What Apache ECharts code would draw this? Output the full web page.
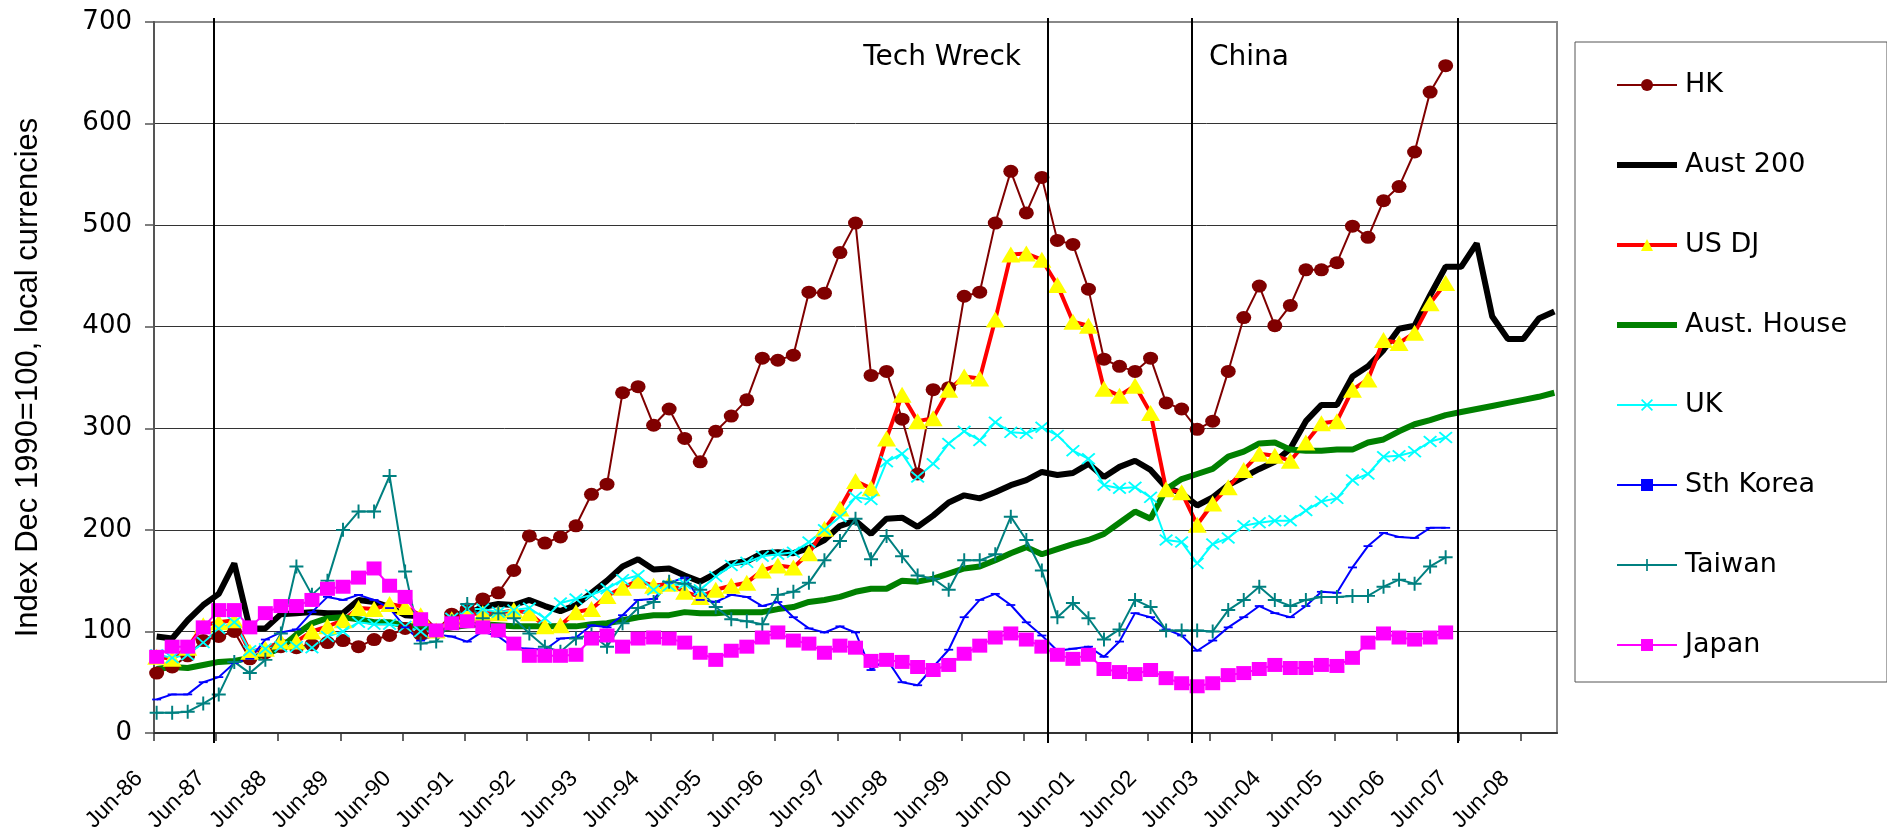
<!DOCTYPE html>
<html>
<head>
    <meta charset="utf-8">
    <title>Share markets and Australian houses</title>
    <script src="https://cdn.jsdelivr.net/npm/echarts@6/dist/echarts.min.js"></script>
    <style>
        html, body { margin: 0; padding: 0; background: #fff; }
    </style>
</head>
<body>
    <div id="main" style="width:1887px;height:832px;"></div>
    <script type="text/javascript">
        // quarterly points, Jun-86 = 0, one label every 4 quarters
        var tickLabels = ['Jun-86', 'Jun-87', 'Jun-88', 'Jun-89', 'Jun-90', 'Jun-91', 'Jun-92', 'Jun-93',
            'Jun-94', 'Jun-95', 'Jun-96', 'Jun-97', 'Jun-98', 'Jun-99', 'Jun-00', 'Jun-01', 'Jun-02',
            'Jun-03', 'Jun-04', 'Jun-05', 'Jun-06', 'Jun-07', 'Jun-08'];
        // the points sit a little after each tick in the original
        var tickShift = 0.17;
        var axisEnd = 90.17;

        var hk = [59, 65, 76, 91, 95, 100, 73, 79, 85, 84, 87, 89, 91, 85, 92, 96, 103, 97, 100, 117,
            122, 132, 138, 160, 194, 187, 193, 204, 235, 245, 335, 341, 303, 319, 290, 267, 297, 312, 328, 369,
            367, 372, 434, 433, 473, 502, 352, 356, 309, 255, 338, 340, 430, 434, 502, 553, 512, 547, 485, 481,
            437, 368, 361, 356, 369, 325, 319, 299, 307, 356, 409, 440, 401, 421, 456, 456, 463, 499, 488, 524,
            538, 572, 631, 657];
        var aust200 = [95, 93, 111, 126, 137, 167, 103, 103, 117, 118, 119, 118, 118, 131, 129, 124, 116, 115, 100, 110,
            117, 124, 127, 126, 131, 125, 120, 126, 138, 150, 164, 171, 161, 162, 155, 149, 157, 167, 169, 177,
            178, 177, 182, 190, 204, 209, 196, 211, 212, 203, 214, 227, 234, 231, 237, 244, 249, 257, 254, 256,
            265, 252, 262, 268, 259, 242, 236, 224, 232, 244, 252, 260, 267, 280, 307, 323, 323, 351, 361, 377,
            398, 401, 431, 459, 459, 482, 410, 388, 388, 408, 415];
        var usDJ = [75, 73, 84, 106, 109, 111, 80, 83, 90, 90, 100, 105, 111, 123, 122, 127, 124, 116, 101, 112,
            117, 118, 118, 121, 118, 105, 106, 119, 122, 135, 143, 150, 145, 147, 139, 134, 141, 145, 148, 160,
            165, 163, 177, 201, 221, 248, 241, 290, 333, 307, 310, 338, 351, 349, 407, 471, 472, 466, 441, 405,
            401, 339, 332, 342, 315, 240, 237, 205, 226, 242, 259, 275, 273, 268, 286, 305, 307, 338, 348, 387,
            384, 394, 423, 443];
        var austHouse = [63, 65, 64, 67, 70, 71, 74, 77, 84, 97, 108, 113, 114, 112, 109, 109, 106, 104, 101, 104,
            106, 107, 106, 105, 105, 105, 105, 105, 107, 108, 111, 114, 116, 116, 119, 118, 118, 119, 119, 119,
            122, 124, 129, 131, 134, 139, 142, 142, 150, 149, 152, 157, 162, 164, 170, 177, 183, 176, 181, 186,
            190, 196, 207, 218, 211, 240, 250, 255, 260, 272, 277, 285, 286, 279, 278, 278, 279, 279, 286, 289,
            297, 304, 308, 313, 316, 319, 322, 325, 328, 331, 335];
        var uk = [77, 74, 77, 89, 103, 109, 81, 83, 85, 85, 84, 95, 100, 109, 107, 107, 105, 100, 100, 113,
            122, 122, 119, 121, 123, 113, 128, 132, 136, 142, 151, 155, 141, 145, 147, 141, 154, 165, 168, 174,
            176, 178, 188, 200, 213, 232, 230, 267, 275, 252, 265, 285, 297, 288, 306, 296, 295, 301, 293, 278,
            270, 244, 241, 242, 232, 190, 188, 167, 186, 192, 204, 207, 209, 209, 219, 228, 231, 249, 255, 272,
            273, 277, 287, 291];
        var sthKorea = [33, 38, 38, 50, 55, 69, 73, 92, 99, 102, 119, 134, 131, 136, 131, 123, 104, 91, 97, 95,
            90, 100, 95, 84, 83, 82, 93, 94, 106, 104, 116, 131, 132, 148, 153, 131, 129, 136, 134, 125,
            129, 114, 103, 99, 105, 99, 62, 73, 50, 47, 65, 82, 114, 131, 137, 126, 109, 96, 81, 83,
            85, 75, 90, 118, 114, 102, 96, 81, 91, 104, 114, 125, 118, 114, 125, 139, 138, 163, 184, 197,
            193, 192, 202, 202];
        var taiwan = [20, 20, 21, 29, 38, 70, 59, 72, 98, 164, 136, 150, 200, 218, 218, 253, 159, 88, 90, 110,
            127, 113, 118, 113, 98, 85, 80, 93, 97, 85, 108, 123, 129, 149, 147, 141, 124, 112, 110, 107,
            136, 139, 148, 170, 189, 211, 171, 194, 174, 155, 152, 141, 170, 170, 176, 213, 190, 160, 114, 128,
            113, 92, 102, 131, 124, 101, 101, 101, 100, 121, 131, 144, 131, 125, 131, 134, 134, 135, 135, 144,
            151, 147, 164, 173];
        var japan = [75, 85, 85, 104, 121, 121, 104, 118, 125, 125, 131, 142, 144, 153, 162, 145, 134, 112, 101, 108,
            110, 104, 101, 88, 76, 76, 76, 77, 93, 96, 85, 93, 94, 93, 89, 79, 72, 81, 85, 94,
            99, 91, 88, 79, 86, 84, 71, 72, 70, 65, 62, 67, 78, 86, 94, 98, 92, 85, 77, 73,
            77, 63, 60, 58, 62, 54, 49, 46, 49, 57, 59, 63, 67, 64, 64, 67, 66, 74, 89, 98,
            94, 92, 94, 99];

        // vertical event lines, in quarters from the first point
        var events = [
            { at: 3.69, label: '', side: 'right' },
            { at: 57.37, label: 'Tech Wreck', side: 'left' },
            { at: 66.64, label: 'China', side: 'right' },
            { at: 83.8, label: '', side: 'right' }
        ];

        var plusPath = 'path://M4.3,0H5.7V4.3H10V5.7H5.7V10H4.3V5.7H0V4.3H4.3Z';
        var crossPath = 'path://M0,1L1,0L5,4L9,0L10,1L6,5L10,9L9,10L5,6L1,10L0,9L4,5Z';
        var dashPath = 'path://M0,0H9V4H0Z';

        var tickPos = tickLabels.map(function (t, k) { return k * 4 - tickShift; });

        function pairs(arr) {
            return arr.map(function (v, i) { return [i, v]; });
        }

        function makeLine(name, arr, color, width, symbol, size, fill) {
            return {
                name: name,
                type: 'line',
                data: pairs(arr),
                symbol: symbol,
                symbolSize: size,
                symbolKeepAspect: true,
                showSymbol: symbol !== 'none',
                showAllSymbol: true,
                lineStyle: { color: color, width: width },
                itemStyle: { color: fill || color, borderWidth: 0 },
                emphasis: { disabled: true },
                silent: true
            };
        }

        var myChart = echarts.init(document.getElementById('main'));

        var option = {
            animation: false,
            backgroundColor: '#fff',
            grid: {
                left: 154, right: 330, top: 22, bottom: 99,
                outerBoundsMode: 'none',
                show: true, borderColor: '#888', borderWidth: 2
            },
            legend: {
                orient: 'vertical',
                left: 1575, top: 42,
                padding: [28, 40, 22, 39],
                itemWidth: 60, itemHeight: 15, itemGap: 50,
                selectedMode: false,
                borderColor: '#555', borderWidth: 1,
                textStyle: { fontFamily: 'DejaVu Sans', fontSize: 27, color: '#000', lineHeight: 30, padding: [0, 0, 0, 3] },
                data: [
                    { name: 'HK', lineStyle: { width: 2 } },
                    { name: 'Aust 200', lineStyle: { width: 6 }, itemStyle: { opacity: 0 } },
                    { name: 'US DJ', lineStyle: { width: 4 } },
                    { name: 'Aust. House', lineStyle: { width: 6 }, itemStyle: { opacity: 0 } },
                    { name: 'UK', lineStyle: { width: 2 } },
                    { name: 'Sth Korea', lineStyle: { width: 2 } },
                    { name: 'Taiwan', lineStyle: { width: 2 } },
                    { name: 'Japan', lineStyle: { width: 2 } }
                ]
            },
            xAxis: {
                type: 'value',
                min: -tickShift, max: axisEnd,
                splitLine: { show: false },
                axisLine: { onZero: false, lineStyle: { color: '#333', width: 2 } },
                axisTick: { show: true, length: 8, customValues: tickPos, lineStyle: { color: '#333', width: 1.5 } },
                axisLabel: {
                    customValues: tickPos,
                    formatter: function (v) { return '{t|' + tickLabels[Math.round((v + tickShift) / 4)] + '}'; },
                    rotate: 45, margin: 27,
                    rich: {
                        t: { padding: [0, 21, 0, 0], fontFamily: 'Liberation Sans', fontSize: 23, color: '#000' }
                    }
                }
            },
            yAxis: {
                type: 'value',
                min: 0, max: 700, interval: 100,
                name: 'Index Dec 1990=100, local currencies',
                nameLocation: 'middle', nameGap: 110,
                nameTextStyle: { fontFamily: 'Liberation Sans', fontSize: 31, color: '#000' },
                axisLine: { show: true, onZero: false, lineStyle: { color: '#555', width: 2 } },
                axisTick: { show: true, length: 9, lineStyle: { color: '#555', width: 1.5 } },
                axisLabel: { fontFamily: 'DejaVu Sans', fontSize: 26, color: '#000', margin: 22 },
                splitLine: { showMaxLine: false, lineStyle: { color: '#333', width: 1 } }
            },
            series: [
                makeLine('HK', hk, '#800000', 2, 'circle', [15, 13]),
                makeLine('Aust 200', aust200, '#000000', 6, 'none', 0),
                makeLine('US DJ', usDJ, '#FF0000', 4, 'triangle', [19, 16], '#FFFF00'),
                makeLine('Aust. House', austHouse, '#008000', 6, 'none', 0),
                makeLine('UK', uk, '#00FFFF', 2, crossPath, [14, 12]),
                makeLine('Sth Korea', sthKorea, '#0000FF', 2, dashPath, [9, 4]),
                makeLine('Taiwan', taiwan, '#008080', 2, plusPath, [14, 14]),
                makeLine('Japan', japan, '#FF00FF', 2, 'rect', [15, 14])
            ]
        };

        myChart.setOption(option);

        // event lines reach a little past the plot, as in the original
        var yTop = myChart.convertToPixel({ yAxisIndex: 0 }, 700);
        var yBot = myChart.convertToPixel({ yAxisIndex: 0 }, 0);
        var marks = [];
        events.forEach(function (e) {
            var x = Math.round(myChart.convertToPixel({ xAxisIndex: 0 }, e.at));
            marks.push({
                type: 'line', z: 20, silent: true,
                shape: { x1: x, y1: yTop - 4, x2: x, y2: yBot + 10 },
                style: { stroke: '#000', lineWidth: 2 }
            });
            if (e.label) {
                marks.push({
                    type: 'text', z: 20, silent: true,
                    x: e.side === 'left' ? x - 27 : x + 17,
                    y: yTop + 36,
                    style: {
                        text: e.label, fill: '#000',
                        font: '28px "DejaVu Sans"',
                        align: e.side === 'left' ? 'right' : 'left',
                        verticalAlign: 'middle'
                    }
                });
            }
        });
        myChart.setOption({ graphic: marks });
    </script>
</body>
</html>
